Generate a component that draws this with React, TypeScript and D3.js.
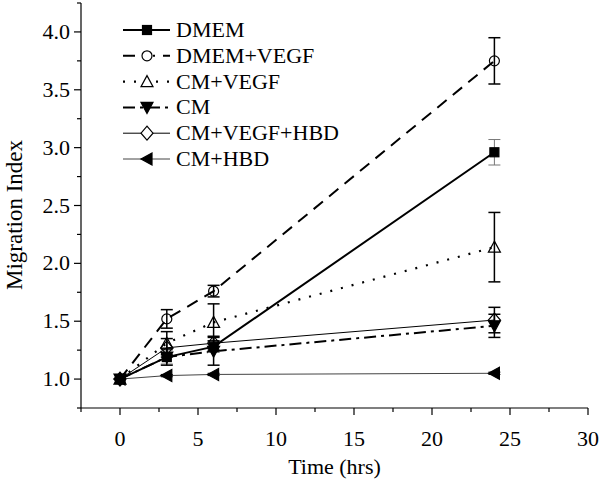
import React from "react";
import * as d3 from "d3";

const times = [0, 3, 6, 24];
const seriesNames = ["DMEM", "DMEM+VEGF", "CM+VEGF", "CM", "CM+VEGF+HBD", "CM+HBD"];
const dmem = [1.0, 1.19, 1.28, 2.96];
const dmemErr = [0, 0.06, 0.05, 0.11];
const dmemVegf = [1.0, 1.52, 1.76, 3.75];
const dmemVegfErr = [0, 0.08, 0.05, 0.2];
const cmVegf = [1.0, 1.31, 1.49, 2.14];
const cmVegfErr = [0, 0.1, 0.16, 0.3];
const cm = [1.0, 1.19, 1.24, 1.46];
const cmErr = [0, 0.07, 0.12, 0.1];
const cmVegfHbd = [1.0, 1.27, 1.31, 1.51];
const cmVegfHbdErr = [0, 0.08, 0.06, 0.11];
const cmHbd = [1.0, 1.03, 1.04, 1.05];
const cmHbdErr = [0, 0.01, 0.01, 0.01];
const xTicks = [0, 5, 10, 15, 20, 25, 30];
const yTicks = [1.0, 1.5, 2.0, 2.5, 3.0, 3.5, 4.0];

type Style = {
  dash: string;
  width: number;
  color: string;
  marker: string;
  fill: string;
  errColor: string;
  errWidth: number;
};

const styles: Style[] = [
  { dash: "", width: 2, color: "#000", marker: "square", fill: "#000", errColor: "#777", errWidth: 1 },
  { dash: "12,8", width: 2, color: "#000", marker: "circle", fill: "none", errColor: "#000", errWidth: 1.5 },
  { dash: "2,9", width: 2.2, color: "#000", marker: "triangle", fill: "none", errColor: "#000", errWidth: 1.5 },
  { dash: "12,5,3,5", width: 2, color: "#000", marker: "triangleDown", fill: "#000", errColor: "#000", errWidth: 1.5 },
  { dash: "", width: 1, color: "#000", marker: "diamond", fill: "none", errColor: "#000", errWidth: 1.5 },
  { dash: "", width: 1, color: "#444", marker: "triangleLeft", fill: "#000", errColor: "#000", errWidth: 1 },
];

const values = [dmem, dmemVegf, cmVegf, cm, cmVegfHbd, cmHbd];
const errors = [dmemErr, dmemVegfErr, cmVegfErr, cmErr, cmVegfHbdErr, cmHbdErr];

const W = 600;
const H = 486;
const x = d3.scaleLinear().domain([-2.5, 30]).range([81, 588]);
const y = d3.scaleLinear().domain([0.75, 4.25]).range([408, 3]);

function Marker({ kind, cx, cy, fill }: { kind: string; cx: number; cy: number; fill: string }) {
  const common = { fill, stroke: "#000", strokeWidth: 1.2 };
  switch (kind) {
    case "square":
      return <rect x={cx - 4.5} y={cy - 4.5} width={9} height={9} {...common} />;
    case "circle":
      return <circle cx={cx} cy={cy} r={5} {...common} />;
    case "triangle":
      return <path d={`M${cx},${cy - 6}L${cx + 6},${cy + 5}L${cx - 6},${cy + 5}Z`} {...common} />;
    case "triangleDown":
      return <path d={`M${cx},${cy + 6}L${cx + 6},${cy - 5}L${cx - 6},${cy - 5}Z`} {...common} />;
    case "diamond":
      return <path d={`M${cx},${cy - 7}L${cx + 6},${cy}L${cx},${cy + 7}L${cx - 6},${cy}Z`} {...common} />;
    case "triangleLeft":
      return <path d={`M${cx - 6},${cy}L${cx + 5},${cy - 6}L${cx + 5},${cy + 6}Z`} {...common} />;
  }
  return null;
}

export default function App() {
  const line = d3
    .line<number>()
    .x((_, i) => x(times[i]))
    .y((d) => y(d));
  const font = "Liberation Serif, Times New Roman, serif";
  const xMinor = d3.range(-2.5, 30.01, 2.5);
  const yMinor = d3.range(0.75, 4.26, 0.25);
  const legendY = d3.range(seriesNames.length).map((i) => 30 + i * 25.8);
  const ts: React.CSSProperties = { fontFamily: font };

  return (
    <svg
      width={W}
      height={H}
      style={{ position: "fixed", left: 0, top: 0, background: "#fff", fontFamily: font }}
    >
      <rect width={W} height={H} fill="#fff" />
      {/* axes */}
      <line x1={x(-2.5)} x2={x(30)} y1={y(0.75)} y2={y(0.75)} stroke="#000" strokeWidth={1.2} />
      <line x1={x(-2.5)} x2={x(-2.5)} y1={y(0.75)} y2={y(4.25)} stroke="#000" strokeWidth={1.2} />
      {xMinor.map((t, i) => (
        <line
          key={"xm" + i}
          x1={x(t)}
          x2={x(t)}
          y1={y(0.75)}
          y2={y(0.75) + (xTicks.includes(t) ? 7 : 4)}
          stroke="#000"
          strokeWidth={1.2}
        />
      ))}
      {yMinor.map((t, i) => (
        <line
          key={"ym" + i}
          x1={x(-2.5)}
          x2={x(-2.5) - (yTicks.some((v) => Math.abs(v - t) < 1e-6) ? 7 : 4)}
          y1={y(t)}
          y2={y(t)}
          stroke="#000"
          strokeWidth={1.2}
        />
      ))}
      {xTicks.map((t) => (
        <text key={"xt" + t} style={ts} x={x(t)} y={y(0.75) + 38} textAnchor="middle" fontSize={22}>
          {t}
        </text>
      ))}
      {yTicks.map((t) => (
        <text key={"yt" + t} style={ts} x={x(-2.5) - 11} y={y(t) + 7} textAnchor="end" fontSize={22}>
          {t.toFixed(1)}
        </text>
      ))}
      <text style={ts} x={(x(-2.5) + x(30)) / 2} y={474} textAnchor="middle" fontSize={22}>
        Time (hrs)
      </text>
      <text
        style={ts}
        transform={`translate(22,215) rotate(-90)`}
        textAnchor="middle"
        fontSize={23}
      >
        Migration Index
      </text>

      {/* lines */}
      {values.map((v, si) => (
        <path
          key={"l" + si}
          d={line(v) || ""}
          fill="none"
          stroke={styles[si].color}
          strokeWidth={styles[si].width}
          strokeDasharray={styles[si].dash}
        />
      ))}
      {/* error bars */}
      {values.map((v, si) =>
        v.map((d, i) =>
          errors[si][i] > 0 ? (
            <g key={"e" + si + "-" + i} stroke={styles[si].errColor} strokeWidth={styles[si].errWidth}>
              <line x1={x(times[i])} x2={x(times[i])} y1={y(d - errors[si][i])} y2={y(d + errors[si][i])} />
              <line x1={x(times[i]) - 6} x2={x(times[i]) + 6} y1={y(d - errors[si][i])} y2={y(d - errors[si][i])} />
              <line x1={x(times[i]) - 6} x2={x(times[i]) + 6} y1={y(d + errors[si][i])} y2={y(d + errors[si][i])} />
            </g>
          ) : null
        )
      )}
      {/* markers */}
      {values.map((v, si) =>
        v.map((d, i) => (
          <Marker key={"m" + si + "-" + i} kind={styles[si].marker} cx={x(times[i])} cy={y(d)} fill={styles[si].fill} />
        ))
      )}

      {/* legend */}
      {seriesNames.map((name, i) => (
        <g key={"lg" + i}>
          <line
            x1={123}
            x2={170}
            y1={legendY[i]}
            y2={legendY[i]}
            stroke={styles[i].color}
            strokeWidth={styles[i].width}
            strokeDasharray={styles[i].dash}
          />
          {styles[i].fill === "none" ? (
            <rect x={147 - 6} y={legendY[i] - 6} width={12} height={12} fill="#fff" />
          ) : null}
          <Marker kind={styles[i].marker} cx={147} cy={legendY[i]} fill={styles[i].fill} />
          <text style={ts} x={176} y={legendY[i] + 7} fontSize={22}>
            {name}
          </text>
        </g>
      ))}
    </svg>
  );
}
